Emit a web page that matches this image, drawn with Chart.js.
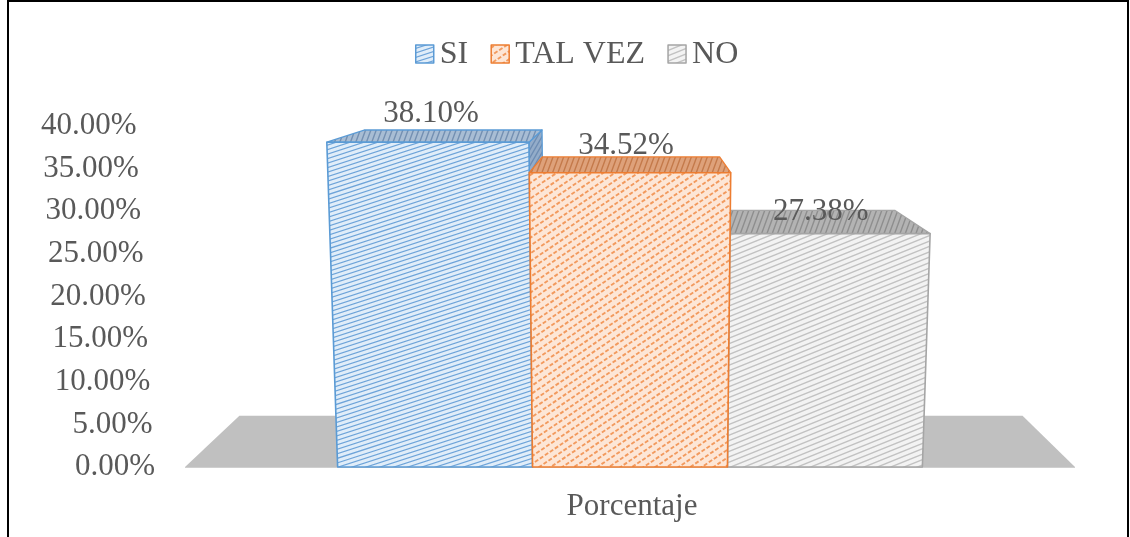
<!DOCTYPE html>
<html>
<head>
<meta charset="utf-8">
<script src="https://cdn.jsdelivr.net/npm/chart.js@4.4.1/dist/chart.umd.min.js"></script>
<style>
  html, body { margin: 0; padding: 0; background: #ffffff; }
  #wrap { position: relative; width: 1130px; height: 537px; }
  canvas { display: block; }
</style>
</head>
<body>
<div id="wrap"><canvas id="chart" width="1130" height="537"></canvas></div>
<script>
// ---- data ----
const categories = ['Porcentaje'];
const seriesNames = ['SI', 'TAL VEZ', 'NO'];
const siValues = [0.3810];
const talVezValues = [0.3452];
const noValues = [0.2738];
const yTickValues = [0, 0.05, 0.10, 0.15, 0.20, 0.25, 0.30, 0.35, 0.40];
const axisTitle = 'Porcentaje';

const fmtPct = v => (v * 100).toFixed(2) + '%';

// ---- look of each series: front face, top face, side face ----
const looks = [
  { edge: '#5b9bd5',
    front: { bg: '#e0edf9', line: '#6ea4d9', lw: 1.2, gap: 4.3, angle: 18 },
    top:   { bg: '#a8bdd4', line: '#7490b2', lw: 1.4, gap: 5, angle: 70 },
    side:  { bg: '#93acc9', line: '#6e8db3', lw: 1.3, gap: 4, angle: 60 } },
  { edge: '#ed7d31',
    front: { bg: '#fde6d6', line: '#f29a5e', lw: 1.9, gap: 6.5, angle: 34, dash: [4, 2] },
    top:   { bg: '#dea17a', line: '#c47a4b', lw: 1.4, gap: 5, angle: 70 },
    side:  { bg: '#d8956a', line: '#bf7444', lw: 1.3, gap: 4, angle: 60 } },
  { edge: '#a5a5a5',
    front: { bg: '#f3f3f3', line: '#c2c2c2', lw: 1.4, gap: 5, angle: 22 },
    top:   { bg: '#b3b3b3', line: '#8e8e8e', lw: 1.4, gap: 5, angle: 70 },
    side:  { bg: '#a9a9a9', line: '#8a8a8a', lw: 1.3, gap: 4, angle: 60 } }
];

const TEXT = '#595959';
const FONT = '"Liberation Serif", "Times New Roman", serif';

// perspective constants
const SPREAD = 1.14e-4;   // widening of the front plane per pixel of height
const DEPTH = 0.12;       // share of the way toward the vanishing point

function polyPath(ctx, pts) {
  ctx.beginPath();
  ctx.moveTo(pts[0][0], pts[0][1]);
  for (let i = 1; i < pts.length; i++) ctx.lineTo(pts[i][0], pts[i][1]);
  ctx.closePath();
}

function hatchPoly(ctx, pts, st) {
  ctx.save();
  polyPath(ctx, pts);
  ctx.clip();
  ctx.fillStyle = st.bg;
  ctx.fill();
  let minX = Infinity, minY = Infinity, maxX = -Infinity, maxY = -Infinity;
  pts.forEach(p => { minX = Math.min(minX, p[0]); maxX = Math.max(maxX, p[0]); minY = Math.min(minY, p[1]); maxY = Math.max(maxY, p[1]); });
  const cx = (minX + maxX) / 2, cy = (minY + maxY) / 2;
  const r = Math.hypot(maxX - minX, maxY - minY) / 2 + 4;
  ctx.translate(cx, cy);
  ctx.rotate(-st.angle * Math.PI / 180);
  ctx.strokeStyle = st.line;
  ctx.lineWidth = st.lw;
  if (st.dash) ctx.setLineDash(st.dash);
  ctx.beginPath();
  for (let o = -r; o <= r; o += st.gap) {
    ctx.moveTo(-r, o);
    ctx.lineTo(r, o);
  }
  ctx.stroke();
  ctx.restore();
}

function strokePoly(ctx, pts, color, lw) {
  ctx.save();
  polyPath(ctx, pts);
  ctx.strokeStyle = color;
  ctx.lineWidth = lw;
  ctx.lineJoin = 'round';
  ctx.stroke();
  ctx.restore();
}

const threeD = {
  id: 'threeD',
  beforeDatasetsDraw(chart) {
    const { ctx, chartArea: area, scales } = chart;
    const yScale = scales.y;
    const midX = (area.left + area.right) / 2;
    const vp = [midX + 8, yScale.getPixelForValue(0.5)];
    const face = (x, y) => [midX + (x - midX) * (1 + (area.bottom - y) * SPREAD), y];
    const back = p => [p[0] + DEPTH * (vp[0] - p[0]), p[1] + DEPTH * (vp[1] - p[1])];

    // frame
    ctx.save();
    ctx.strokeStyle = '#000000';
    ctx.lineWidth = 2;
    ctx.beginPath();
    ctx.moveTo(8, 545); ctx.lineTo(8, 1); ctx.lineTo(1128, 1); ctx.lineTo(1128, 545);
    ctx.stroke();
    ctx.restore();

    // floor
    const f1 = [area.left, area.bottom], f2 = [area.right, area.bottom];
    ctx.save();
    polyPath(ctx, [f1, f2, back(f2), back(f1)]);
    ctx.fillStyle = '#c0c0c0';
    ctx.fill();
    ctx.strokeStyle = '#cfcfcf';
    ctx.lineWidth = 1;
    ctx.beginPath(); ctx.moveTo(f1[0], f1[1] + 0.5); ctx.lineTo(f2[0], f2[1] + 0.5); ctx.stroke();
    ctx.restore();

    // bars, painted from the one farthest from the vanishing point
    const bars = [];
    chart.data.datasets.forEach((ds, di) => {
      const meta = chart.getDatasetMeta(di);
      meta.data.forEach(el => {
        const p = el.getProps(['x', 'y', 'base', 'width'], true);
        bars.push({ di, p });
      });
    });
    bars.sort((a, b) => Math.abs(b.p.x - vp[0]) - Math.abs(a.p.x - vp[0]));

    bars.forEach(({ di, p }) => {
      const look = looks[di];
      const l = p.x - p.width / 2, r = p.x + p.width / 2;
      const lt = face(l, p.y), rt = face(r, p.y), lb = face(l, p.base), rb = face(r, p.base);
      if (rt[0] < vp[0]) {
        const side = [rt, rb, back(rb), back(rt)];
        hatchPoly(ctx, side, look.side);
        strokePoly(ctx, side, look.edge, 1.3);
      }
      if (lt[0] > vp[0]) {
        const side = [lt, lb, back(lb), back(lt)];
        hatchPoly(ctx, side, look.side);
        strokePoly(ctx, side, look.edge, 1.3);
      }
      const top = [lt, rt, back(rt), back(lt)];
      hatchPoly(ctx, top, look.top);
      strokePoly(ctx, top, look.edge, 1.3);
      const front = [lb, lt, rt, rb];
      hatchPoly(ctx, front, look.front);
      strokePoly(ctx, front, look.edge, 1.6);
    });
  },
  afterDatasetsDraw(chart) {
    const { ctx, chartArea: area, scales } = chart;
    const yScale = scales.y;
    const midX = (area.left + area.right) / 2;
    const face = (x, y) => [midX + (x - midX) * (1 + (area.bottom - y) * SPREAD), y];

    ctx.save();
    ctx.fillStyle = TEXT;

    // value axis labels along the front plane
    ctx.font = '31px ' + FONT;
    ctx.textAlign = 'right';
    ctx.textBaseline = 'middle';
    yTickValues.forEach(v => {
      const y = yScale.getPixelForValue(v);
      ctx.fillText(fmtPct(v), face(area.left - 30, y)[0], y);
    });

    // value labels above the bars
    ctx.textAlign = 'center';
    chart.data.datasets.forEach((ds, di) => {
      chart.getDatasetMeta(di).data.forEach((el, i) => {
        const p = el.getProps(['x', 'y', 'base'], true);
        const lift = 4 + 0.076 * (p.base - p.y);
        ctx.fillText(fmtPct(ds.data[i]), p.x - 4, p.y - lift);
      });
    });

    // category axis title
    ctx.fillText(axisTitle, midX + 2, 507);

    // legend
    ctx.font = '32px ' + FONT;
    ctx.textAlign = 'left';
    ctx.textBaseline = 'alphabetic';
    const box = 18, gapIn = 6, gapOut = 23;
    const names = chart.data.datasets.map(ds => ds.label);
    const widths = names.map(n => ctx.measureText(n).width);
    const total = widths.reduce((s, w) => s + box + gapIn + w, 0) + gapOut * (names.length - 1);
    let x = 577 - total / 2;
    const baseY = 63;
    names.forEach((n, i) => {
      const sq = [[x, baseY - box], [x + box, baseY - box], [x + box, baseY], [x, baseY]];
      hatchPoly(ctx, sq, looks[i].front);
      strokePoly(ctx, sq, looks[i].edge, 1.5);
      ctx.fillStyle = TEXT;
      ctx.fillText(n, x + box + gapIn, baseY);
      x += box + gapIn + widths[i] + gapOut;
    });
    ctx.restore();
  }
};

new Chart(document.getElementById('chart'), {
  type: 'bar',
  data: {
    labels: categories,
    datasets: [
      { label: seriesNames[0], data: siValues },
      { label: seriesNames[1], data: talVezValues },
      { label: seriesNames[2], data: noValues }
    ].map(d => Object.assign(d, { backgroundColor: 'rgba(0,0,0,0)', borderWidth: 0 }))
  },
  options: {
    responsive: false,
    animation: false,
    devicePixelRatio: 1,
    layout: { padding: { left: 185, right: 55, top: 126, bottom: 70 } },
    datasets: { bar: { categoryPercentage: 0.657, barPercentage: 1 } },
    scales: {
      x: { display: false },
      y: { display: false, min: 0, max: 0.4, ticks: { stepSize: 0.05 } }
    },
    plugins: { legend: { display: false }, tooltip: { enabled: false } }
  },
  plugins: [threeD]
});
</script>
</body>
</html>
